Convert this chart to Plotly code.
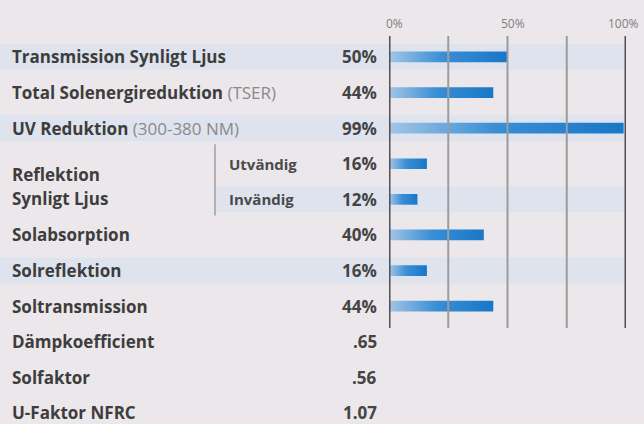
import plotly.graph_objects as go

W, H = 644, 424

# ---- data ----
labels = [
    "<b>Transmission Synligt Ljus</b>",
    "<b>Total Solenergireduktion</b> <span style='color:#8a8a8a'>(TSER)</span>",
    "<b>UV Reduktion</b> <span style='color:#8a8a8a'>(300-380 NM)</span>",
    None,
    None,
    "<b>Solabsorption</b>",
    "<b>Solreflektion</b>",
    "<b>Soltransmission</b>",
    "<b>Dämpkoefficient</b>",
    "<b>Solfaktor</b>",
    "<b>U-Faktor NFRC</b>",
]
group_label = ["<b>Reflektion</b>", "<b>Synligt Ljus</b>"]
sub_labels = ["<b>Utvändig</b>", "<b>Invändig</b>"]
value_text = ["50%", "44%", "99%", "16%", "12%", "40%", "16%", "44%", ".65", ".56", "1.07"]
bar_values = [50, 44, 99, 16, 12, 40, 16, 44]
tick_vals = [0, 50, 100]
tick_text = ["0%", "50%", "100%"]
grid_vals = [0, 25, 50, 75, 100]
band_rows = [0, 2, 4, 6]

FONT = "Open Sans"
TXT = "#3d3d3d"

fig = go.Figure()

half = 0.15
for i, v in enumerate(bar_values):
    fig.add_trace(go.Scatter(
        x=[0, v, v, 0, 0],
        y=[i - half, i - half, i + half, i + half, i - half],
        mode="lines", line=dict(width=0), fill="toself",
        fillgradient=dict(type="horizontal",
                          colorscale=[[0, "#a3c5e6"], [0.45, "#3a8fd5"], [1, "#1877c8"]]),
        hoverinfo="skip", showlegend=False))

shapes = []
# row bands
for r in band_rows:
    x0 = 216 / W if r == 4 else 0
    shapes.append(dict(type="rect", xref="paper", yref="y", x0=x0, x1=624 / W,
                       y0=r - 0.36, y1=r + 0.36, fillcolor="#dfe3ee",
                       line=dict(width=0), layer="below"))
# grid lines
for g in grid_vals:
    strong = g in (0, 100)
    shapes.append(dict(type="line", xref="x", yref="y", x0=g, x1=g, y0=-0.59, y1=7.61,
                       line=dict(color="#505050" if strong else "#9c9c9c",
                                 width=3 if strong else 2), layer="above"))
# separator for Reflektion group
shapes.append(dict(type="line", xref="paper", yref="y", x0=215 / W, x1=215 / W,
                   y0=2.45, y1=4.45, line=dict(color="#a0a0a0", width=1.5)))

ann = []
for i, lab in enumerate(labels):
    if lab is not None:
        ann.append(dict(x=10 / W, xref="paper", y=i, yref="y", text=lab, showarrow=False,
                        xanchor="left", yanchor="middle",
                        font=dict(family=FONT, size=17, color=TXT)))
for lab, yy in zip(group_label, [3.3, 3.98]):
    ann.append(dict(x=10 / W, xref="paper", y=yy, yref="y", text=lab, showarrow=False,
                    xanchor="left", yanchor="middle",
                    font=dict(family=FONT, size=17, color=TXT)))
for k, lab in enumerate(sub_labels):
    ann.append(dict(x=227 / W, xref="paper", y=3 + k, yref="y", text=lab, showarrow=False,
                    xanchor="left", yanchor="middle",
                    font=dict(family=FONT, size=15, color="#4a4a4a")))
for i, t in enumerate(value_text):
    ann.append(dict(x=379 / W, xref="paper", y=i, yref="y", text="<b>" + t + "</b>",
                    showarrow=False, xanchor="right", yanchor="middle",
                    font=dict(family=FONT, size=17, color="#444444")))
for tv, tt, sh in zip(tick_vals, tick_text, [5, 5, -3]):
    ann.append(dict(x=tv, xref="x", y=-0.95, yref="y", text=tt, showarrow=False,
                    xanchor="center", yanchor="middle", xshift=sh,
                    font=dict(family=FONT, size=12, color="#808080")))

fig.update_layout(
    width=W, height=H,
    margin=dict(l=0, r=0, t=0, b=0),
    paper_bgcolor="#ebe7ea", plot_bgcolor="rgba(0,0,0,0)",
    xaxis=dict(domain=[389 / W, 626 / W], range=[0, 100], visible=False, fixedrange=True),
    yaxis=dict(domain=[0, 1], range=[10.31, -1.60], visible=False, fixedrange=True),
    shapes=shapes, annotations=ann, showlegend=False,
)

fig.write_html("out.html", config={"displayModeBar": False},
               post_script="document.body.style.margin='0';document.body.style.background='#ebe7ea';")
